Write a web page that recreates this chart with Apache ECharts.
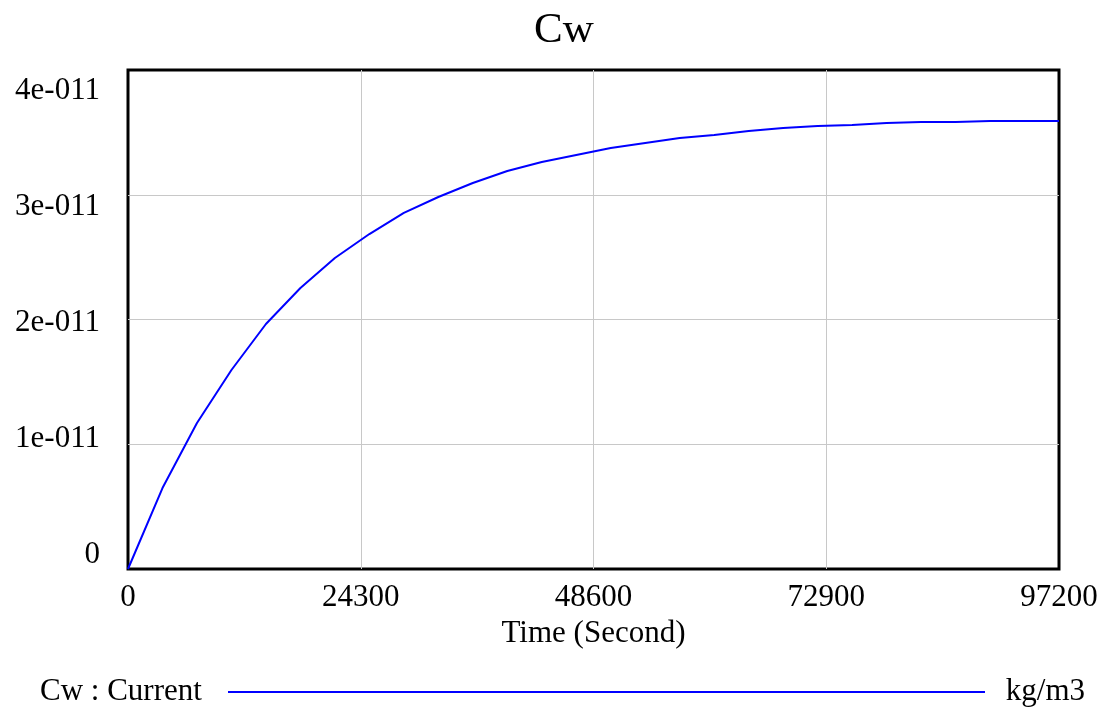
<!DOCTYPE html>
<html>
<head>
<meta charset="utf-8">
<title>Cw</title>
<script src="https://cdn.jsdelivr.net/npm/echarts@6/dist/echarts.min.js"></script>
<style>
  html, body { margin: 0; padding: 0; background: #fff; }
  #chart { width: 1102px; height: 709px; }
</style>
</head>
<body>
<div id="chart"></div>
<script>
// time axis, one saved point every 3600 s
const times = [0, 3600, 7200, 10800, 14400, 18000, 21600, 25200, 28800, 32400,
  36000, 39600, 43200, 46800, 50400, 54000, 57600, 61200, 64800, 68400,
  72000, 75600, 79200, 82800, 86400, 90000, 93600, 97200];
// Cw : Current (kg/m3)
const cwValues = [0, 6.49e-12, 1.170e-11, 1.595e-11, 1.964e-11, 2.253e-11, 2.493e-11,
  2.685e-11, 2.854e-11, 2.982e-11, 3.094e-11, 3.190e-11, 3.263e-11, 3.319e-11,
  3.375e-11, 3.415e-11, 3.455e-11, 3.479e-11, 3.511e-11, 3.535e-11, 3.551e-11,
  3.559e-11, 3.575e-11, 3.583e-11, 3.583e-11, 3.591e-11, 3.591e-11, 3.591e-11];
const xTicks = [0, 24300, 48600, 72900, 97200];
const yTickLabels = ['0', '1e-011', '2e-011', '3e-011', '4e-011'];

const chart = echarts.init(document.getElementById('chart'));
const font = '"Liberation Serif", "Times New Roman", serif';
const blue = '#0000ff';

chart.setOption({
  animation: false,
  title: {
    text: 'Cw', left: 529, top: 4,
    textStyle: { fontFamily: font, fontSize: 43, fontWeight: 'normal', color: '#000' }
  },
  grid: [
    // plot area
    { left: 128, right: 43, top: 70, bottom: 140, show: true, borderColor: '#000', borderWidth: 3 },
    // label band: Vensim spreads the y labels a bit inside the frame
    { left: 128, right: 43, top: 91, bottom: 154 }
  ],
  xAxis: [
    {
      type: 'value', gridIndex: 0, min: 0, max: 97200, interval: 24300,
      axisLine: { show: false }, axisTick: { show: false },
      axisLabel: {
        fontFamily: font, fontSize: 31, color: '#000', margin: 13,
        formatter: v => xTicks.indexOf(v) >= 0 ? String(v) : ''
      },
      splitLine: { show: true, showMinLine: false, showMaxLine: false, lineStyle: { color: '#c8c8c8', width: 1 } },
      name: 'Time (Second)', nameLocation: 'middle', nameGap: 46,
      nameTextStyle: { fontFamily: font, fontSize: 31, color: '#000' }
    },
    { type: 'value', gridIndex: 1, min: 0, max: 97200, show: false }
  ],
  yAxis: [
    {
      type: 'value', gridIndex: 0, min: 0, max: 4e-11, interval: 1e-11,
      axisLine: { show: false }, axisTick: { show: false }, axisLabel: { show: false },
      splitLine: { show: true, showMinLine: false, showMaxLine: false, lineStyle: { color: '#c8c8c8', width: 1 } }
    },
    {
      type: 'value', gridIndex: 1, min: 0, max: 4e-11, interval: 1e-11,
      axisLine: { show: false }, axisTick: { show: false }, splitLine: { show: false },
      axisLabel: {
        fontFamily: font, fontSize: 31, color: '#000', margin: 28,
        formatter: v => yTickLabels[Math.round(v / 1e-11)]
      }
    }
  ],
  series: [{
    name: 'Cw : Current',
    type: 'line',
    xAxisIndex: 0, yAxisIndex: 0,
    data: times.map((t, i) => [t, cwValues[i]]),
    showSymbol: false,
    lineStyle: { color: blue, width: 2 },
    z: 5
  }],
  graphic: [
    { type: 'text', left: 40, top: 676,
      style: { text: 'Cw : Current', font: '31px ' + font, fill: '#000' } },
    { type: 'line', shape: { x1: 228, y1: 692, x2: 985, y2: 692 },
      style: { stroke: blue, lineWidth: 2 } },
    { type: 'text', right: 17, top: 676,
      style: { text: 'kg/m3', font: '31px ' + font, fill: '#000' } }
  ]
});
</script>
</body>
</html>
